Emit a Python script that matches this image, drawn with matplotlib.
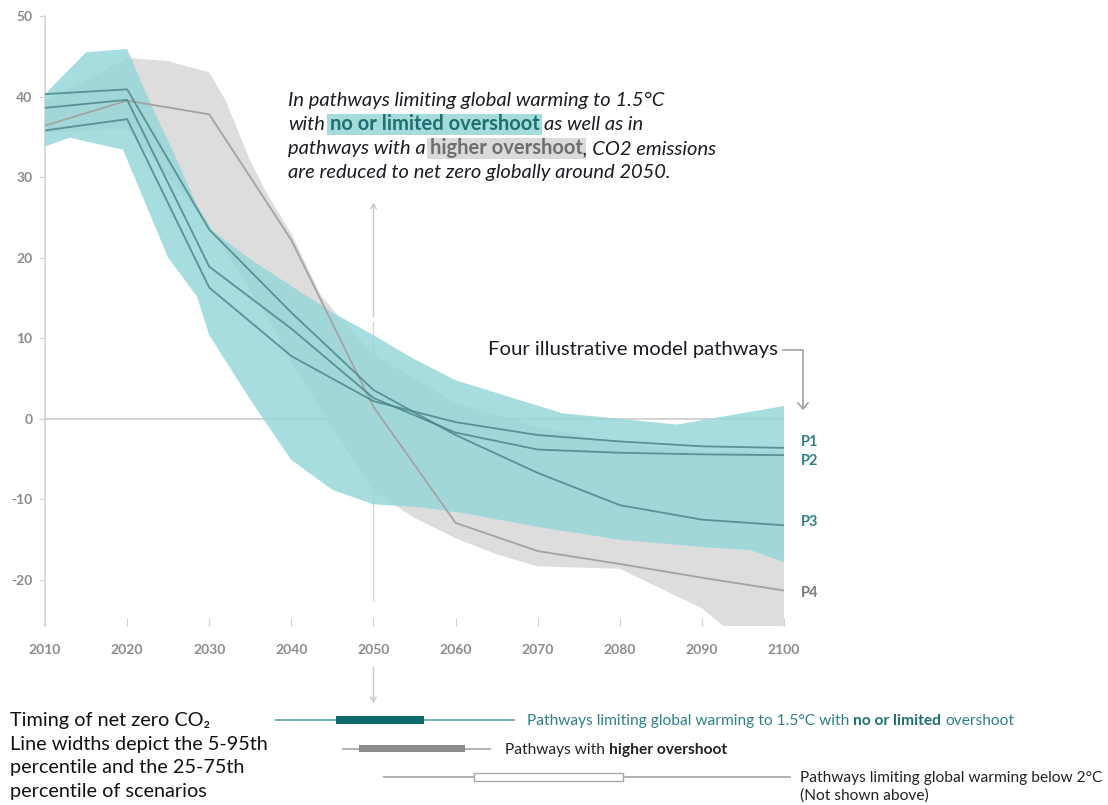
import matplotlib
matplotlib.use("Agg")
import matplotlib.pyplot as plt
from matplotlib.patches import Rectangle
from matplotlib.lines import Line2D
import matplotlib.transforms as mtransforms

plt.rcParams["axes.unicode_minus"] = False

W, H = 1108, 805

# illustrative pathways (GtCO2/yr)
years = [2010, 2020, 2030, 2040, 2050, 2060, 2070, 2080, 2090, 2100]
p1 = [35.8, 37.2, 16.3, 7.8, 2.2, -0.4, -2.0, -2.8, -3.4, -3.6]
p2 = [38.6, 39.6, 18.9, 11.2, 2.6, -1.7, -3.8, -4.2, -4.4, -4.5]
p3 = [40.3, 40.9, 23.5, 13.2, 3.6, -2.0, -6.7, -10.7, -12.5, -13.2]
p4 = [36.4, 39.5, 37.8, 22.2, 1.5, -12.9, -16.4, -18.0, -19.7, -21.3]
path_names = ["P1", "P2", "P3", "P4"]

# envelope of 1.5C pathways with no or limited overshoot
teal_hi_x = [2010, 2015, 2020, 2023, 2025.5, 2028.5, 2030.5, 2035, 2040, 2045, 2050, 2055, 2060, 2073, 2080, 2087, 2100]
teal_hi_y = [40.3, 45.5, 45.9, 38.8, 33.4, 26.5, 23.3, 19.8, 16.5, 13.2, 10.4, 7.4, 4.8, 0.7, 0.0, -0.7, 1.6]
teal_lo_x = [2010, 2013, 2019.5, 2025, 2028.5, 2030, 2035, 2040, 2045, 2050, 2056, 2061, 2070, 2080, 2090, 2096, 2100]
teal_lo_y = [33.8, 34.9, 33.4, 20.0, 15.2, 10.4, 2.4, -5.1, -8.8, -10.6, -11.0, -11.7, -13.4, -15.0, -15.9, -16.3, -17.8]

# envelope of pathways with higher overshoot
gray_hi_x = [2010, 2015, 2020, 2025, 2030, 2032, 2035, 2037, 2040, 2043.5, 2046.5, 2050, 2060, 2070, 2080, 2090, 2100]
gray_hi_y = [39.5, 42.0, 44.8, 44.4, 43.0, 39.5, 32.0, 28.0, 23.0, 15.5, 11.8, 8.0, 2.0, -1.0, -3.0, -4.0, -4.0]
gray_lo_x = [2010, 2020, 2030, 2035, 2038, 2040, 2045, 2050, 2055, 2060, 2065, 2070, 2080, 2090, 2093, 2100]
gray_lo_y = [35.5, 36.0, 24.0, 16.0, 11.0, 7.0, -1.0, -9.0, -12.3, -14.8, -16.8, -18.3, -18.6, -23.5, -26.0, -26.0]

# timing of net zero CO2: (5th, 25th, 75th, 95th percentile)
timing_15 = (2038.0, 2045.4, 2056.1, 2067.3)
timing_hi = (2046.2, 2048.3, 2061.1, 2064.3)
timing_2c = (2051.2, 2062.3, 2080.4, 2100.9)

TEAL = "#98d7d9"
TEAL_DARK = "#0e6a6a"
TEAL_LINE = "#4a868b"
TEAL_TXT = "#2f8189"
GRAY_BAND = "#dddddd"
TICK_TXT = "#8c8c8c"
SANS = ["Lato", "DejaVu Sans"]


def fx(x):
    return x / W


def fy(y):
    return 1 - y / H


fig = plt.figure(figsize=(W / 100, H / 100), dpi=100)
ax = fig.add_axes([fx(45), fy(626), (784 - 45) / W, (626 - 16) / H])
ax.set_xlim(2010, 2100)
ax.set_ylim(-25.7, 50)

ax.fill(gray_hi_x + gray_lo_x[::-1], gray_hi_y + gray_lo_y[::-1], color=GRAY_BAND, lw=0, zorder=1)
ax.axhline(0, color="#c8c8c8", lw=1.1, zorder=2)
ax.fill(teal_hi_x + teal_lo_x[::-1], teal_hi_y + teal_lo_y[::-1], color=TEAL, alpha=0.85, lw=0, zorder=3)

for name, vals in zip(path_names, [p1, p2, p3, p4]):
    if name == "P4":
        ax.plot(years, vals, color="#a3a3a3", lw=1.3, zorder=4)
    else:
        ax.plot(years, vals, color=TEAL_LINE, lw=1.3, alpha=0.85, zorder=5)

label_offsets = {"P1": 0.7, "P2": -0.7, "P3": 0.4, "P4": -0.3}
for name, vals in zip(path_names, [p1, p2, p3, p4]):
    ax.text(2102, vals[-1] + label_offsets[name], name, fontsize=10.5, fontweight="bold",
            family=SANS, color="#7a7a7a" if name == "P4" else TEAL_TXT,
            va="center", ha="left", clip_on=False)

# 2050 marker
ax.plot([2050, 2050], [-22.5, 12], color="#d8d8d8", lw=1, zorder=0.5)
ax.annotate("", xy=(2050, 27.2), xytext=(2050, 12.3),
            arrowprops=dict(arrowstyle="->,head_length=0.35,head_width=0.2", color="#c8c8c8", lw=1),
            zorder=0.5)
blend = mtransforms.blended_transform_factory(ax.transData, fig.transFigure)
ax.annotate("", xy=(2050, fy(706)), xycoords=blend, xytext=(2050, fy(664)), textcoords=blend,
            arrowprops=dict(arrowstyle="->,head_length=0.35,head_width=0.2", color="#c8c8c8", lw=1),
            annotation_clip=False)

for s in ["top", "right", "bottom"]:
    ax.spines[s].set_visible(False)
ax.spines["left"].set_color("#d0d0d0")
ax.spines["left"].set_linewidth(1.1)
ax.set_yticks(range(-20, 51, 10))
ax.set_xticks(range(2010, 2101, 10))
ax.tick_params(axis="y", direction="out", length=4, color="#d0d0d0", labelcolor=TICK_TXT,
               labelsize=10, pad=5)
ax.tick_params(axis="x", direction="in", length=6, color="#d0d0d0", labelcolor=TICK_TXT,
               labelsize=10, pad=13)
for lab in ax.get_xticklabels() + ax.get_yticklabels():
    lab.set_family(SANS)
    lab.set_fontweight("bold")

renderer = fig.canvas.get_renderer()


def text_width(s, **kw):
    t = fig.text(0, 0, s, **kw)
    w = t.get_window_extent(renderer).width
    t.remove()
    return w


def rich_line(x, y, parts, **base):
    space = text_width("a a", **base) - text_width("aa", **base)
    for i, (s, style, glue) in enumerate(parts):
        if i and not glue:
            x += space
        kw = dict(base)
        kw.update({k: v for k, v in style.items() if k != "bg"})
        t = fig.text(fx(x), fy(y), s, va="baseline", ha="left", zorder=3, **kw)
        w = t.get_window_extent(renderer).width
        if "bg" in style:
            fig.patches.append(Rectangle((fx(x - 3), fy(y + 5)), (w + 6) / W, 21 / H,
                                         transform=fig.transFigure, color=style["bg"],
                                         lw=0, zorder=2))
        x += w
    return x


# callout
note = dict(fontsize=14.5, family=SANS, style="italic", color="#1c1c24")
hl_teal = dict(fontweight="bold", style="normal", color="#1f6f72", bg="#a6dbdc")
hl_gray = dict(fontweight="bold", style="normal", color="#6e6e6e", bg="#dadada")
rich_line(288, 106, [("In pathways limiting global warming to 1.5°C", {}, False)], **note)
rich_line(288, 130, [("with", {}, False), ("no or limited overshoot", hl_teal, False),
                     ("as well as in", {}, False)], **note)
rich_line(288, 154, [("pathways with a", {}, False), ("higher overshoot", hl_gray, False),
                     (", CO2 emissions", {}, True)], **note)
rich_line(288, 178, [("are reduced to net zero globally around 2050.", {}, False)], **note)

# pathway label with elbow arrow
fig.text(fx(488), fy(355), "Four illustrative model pathways", fontsize=14.6, family=SANS,
         color="#1c1c24", va="baseline", ha="left")
fig.add_artist(Line2D([fx(783), fx(803), fx(803)], [fy(350), fy(350), fy(408)],
                      color="#9a9a9a", lw=1.1))
fig.add_artist(Line2D([fx(798), fx(803), fx(808)], [fy(403), fy(409), fy(403)],
                      color="#9a9a9a", lw=1.1))

# timing of net zero
tx = fig.add_axes([fx(45), fy(791), (784 - 45) / W, 85 / H])
tx.set_xlim(2010, 2100)
tx.set_ylim(2.5, -0.5)
tx.axis("off")
tx.hlines(0, timing_15[0], timing_15[3], color="#78b2b4", lw=1.4, zorder=1)
tx.barh(0, timing_15[2] - timing_15[1], left=timing_15[1], height=0.26, color=TEAL_DARK,
        lw=0, zorder=3)
tx.hlines(1, timing_hi[0], timing_hi[3], color="#b0b0b0", lw=1.4, zorder=1)
tx.barh(1, timing_hi[2] - timing_hi[1], left=timing_hi[1], height=0.26, color="#8a8a8a",
        lw=0, zorder=3)
tx.hlines(2, timing_2c[0], timing_2c[3], color="#9a9a9a", lw=1.1, clip_on=False, zorder=1)
tx.barh(2, timing_2c[2] - timing_2c[1], left=timing_2c[1], height=0.28, color="white",
        edgecolor="#a8a8a8", lw=1, zorder=3)

lab = dict(fontsize=11.2, family=SANS)
rich_line(527, 725, [("Pathways limiting global warming to 1.5°C with", {"color": TEAL_TXT}, False),
                     ("no or limited", {"color": "#1f6f72", "fontweight": "bold"}, False),
                     ("overshoot", {"color": TEAL_TXT}, False)], **lab)
rich_line(505, 754, [("Pathways with", {"color": "#222222"}, False),
                     ("higher overshoot", {"color": "#222222", "fontweight": "bold"}, False)], **lab)
fig.text(fx(800), fy(782), "Pathways limiting global warming below 2°C", color="#222222",
         va="baseline", **lab)
fig.text(fx(800), fy(800), "(Not shown above)", color="#222222", va="baseline", **lab)

left = dict(fontsize=14.3, family=SANS, color="#111111", va="baseline")
for i, s in enumerate(["Timing of net zero CO₂", "Line widths depict the 5-95th",
                       "percentile and the 25-75th", "percentile of scenarios"]):
    fig.text(fx(10), fy(726 + 23.5 * i), s, **left)

fig.savefig("out.png", dpi=100)
